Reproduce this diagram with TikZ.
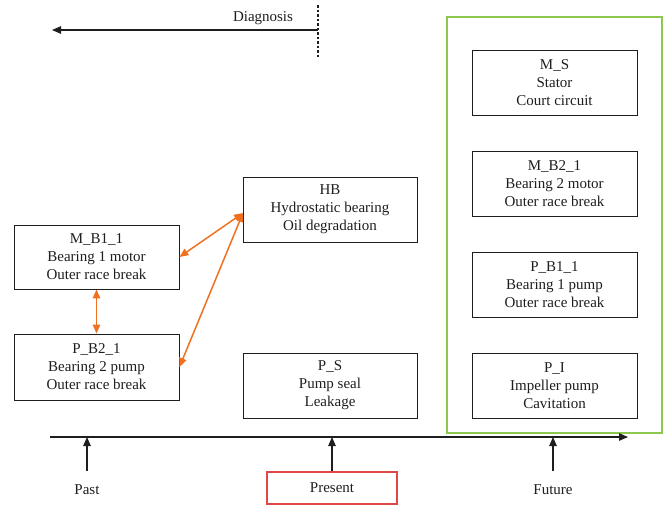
\documentclass[tikz,border=0pt]{standalone}
\usepackage{fontspec}
\setmainfont{Liberation Serif}
\usetikzlibrary{arrows.meta}
\definecolor{orgc}{RGB}{240,112,32}
\definecolor{grnc}{RGB}{140,200,80}
\definecolor{redc}{RGB}{225,70,70}
\definecolor{txtc}{RGB}{30,30,30}
\tikzset{
  box/.style={draw=txtc, line width=0.9pt, align=center, text=txtc,
    font=\fontsize{15}{18}\selectfont, inner sep=0pt},
  lbl/.style={text=txtc, font=\fontsize{15}{18}\selectfont, inner sep=0pt},
  blk/.style={draw=txtc, line width=1.1pt, -{Triangle[length=9pt,width=7.5pt]}},
  orng/.style={draw=orgc, line width=1.5pt, {Triangle[length=9pt,width=7.5pt]}-{Triangle[length=9pt,width=7.5pt]}}
}
\begin{document}
\begin{tikzpicture}[x=1pt,y=-1pt]
\useasboundingbox (0,0) rectangle (669,504);
% diagnosis
\coordinate (dgs) at (318,30);
\coordinate (dge) at (52,30);
\coordinate (dtop) at (318,5);
\coordinate (dbot) at (318,58);
\draw[txtc, line width=1.2pt, dash pattern=on 2.5pt off 2pt] (dtop) -- (dbot);
\draw[blk] (dgs) -- (dge);
\node[lbl] (diag) at (263,18) {Diagnosis};
% green frame
\draw[grnc, line width=2.8pt] (447,17) rectangle (662,433);
% boxes
\node[box, minimum width=165pt, minimum height=64pt] (mb11) at (96.5,257) {M\_B1\_1\\Bearing 1 motor\\Outer race break};
\node[box, minimum width=165pt, minimum height=66pt] (pb21) at (96.5,367) {P\_B2\_1\\Bearing 2 pump\\Outer race break};
\node[box, minimum width=174pt, minimum height=65pt] (hb) at (330,209.5) {HB\\Hydrostatic bearing\\Oil degradation};
\node[box, minimum width=174pt, minimum height=65pt] (ps) at (330,385.5) {P\_S\\Pump seal\\Leakage};
\node[box, minimum width=165pt, minimum height=65pt] (ms) at (554.5,82.5) {M\_S\\Stator\\Court circuit};
\node[box, minimum width=165pt, minimum height=65pt] (mb21) at (554.5,183.5) {M\_B2\_1\\Bearing 2 motor\\Outer race break};
\node[box, minimum width=165pt, minimum height=65pt] (pb11) at (554.5,284.5) {P\_B1\_1\\Bearing 1 pump\\Outer race break};
\node[box, minimum width=165pt, minimum height=65pt] (pi) at (554.5,385.5) {P\_I\\Impeller pump\\Cavitation};
% orange links
\coordinate (hbw) at (243,213);
\draw[orng] (mb11.south) -- (pb21.north);
\draw[orng] (mb11.east) -- (hbw);
\draw[orng] (pb21.east) -- (hbw);
% timeline
\coordinate (tls) at (50,437);
\coordinate (tle) at (628,437);
\draw[blk] (tls) -- (tle);
\node[lbl] (past) at (87,490) {Past};
\node[lbl] (future) at (553,490) {Future};
\node[box, draw=redc, line width=1.1pt, minimum width=130pt, minimum height=32pt] (present) at (332,488) {Present};
\coordinate (tpast) at (87,437);
\coordinate (tpres) at (332,437);
\coordinate (tfut) at (553,437);
\coordinate (ppast) at (87,471);
\coordinate (pfut) at (553,471);
\draw[blk] (ppast) -- (tpast);
\draw[blk] (present.north) -- (tpres);
\draw[blk] (pfut) -- (tfut);
\end{tikzpicture}
\end{document}
